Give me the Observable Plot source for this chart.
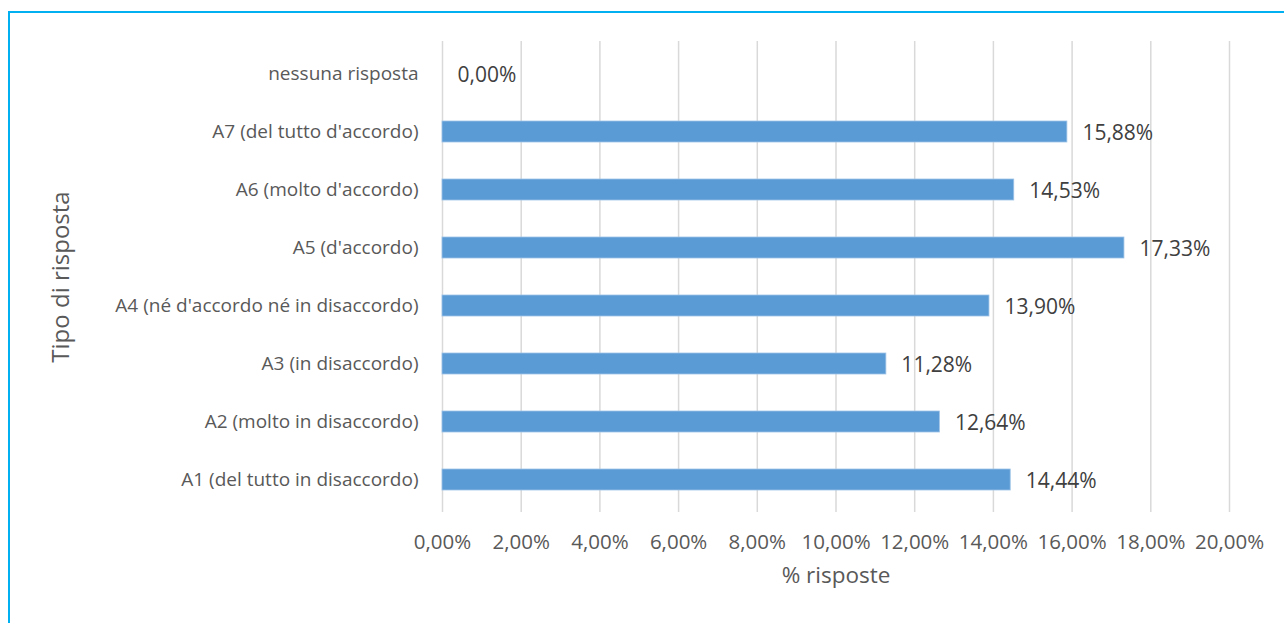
<!DOCTYPE html>
<html>
<head>
<meta charset="utf-8">
<script src="https://cdn.jsdelivr.net/npm/d3@7"></script>
<script src="https://cdn.jsdelivr.net/npm/@observablehq/plot@0.6"></script>
<style>
  html, body { margin: 0; padding: 0; background: #fff; overflow: hidden; }
  #wrap { position: relative; width: 1284px; height: 623px; }
  #border { position: absolute; left: 8px; top: 11px; right: -10px; bottom: -10px;
            border-left: 2px solid #00B0F0; border-top: 2px solid #00B0F0; pointer-events: none; }
  #chart { position: absolute; left: 0; top: 0; }
</style>
</head>
<body>
<div id="wrap"><div id="chart"></div><div id="border"></div></div>
<script>
const categories = [
  "A1 (del tutto in disaccordo)",
  "A2 (molto in disaccordo)",
  "A3 (in disaccordo)",
  "A4 (né d'accordo né in disaccordo)",
  "A5 (d'accordo)",
  "A6 (molto d'accordo)",
  "A7 (del tutto d'accordo)",
  "nessuna risposta"
];
const values = [14.44, 12.64, 11.28, 13.90, 17.33, 14.53, 15.88, 0.00];
const xTicks = [0, 2, 4, 6, 8, 10, 12, 14, 16, 18, 20];
const xLabel = "% risposte";
const yLabel = "Tipo di risposta";

const data = categories.map((c, i) => ({category: c, value: values[i]}));
const fmt = v => v.toFixed(2).replace(".", ",") + "%";
const font = "'Open Sans', sans-serif";

const chart = Plot.plot({
  width: 1284,
  height: 623,
  marginLeft: 442,
  marginRight: 55,
  marginTop: 41,
  marginBottom: 111,
  style: {fontFamily: font, fontSize: "19px", color: "#595959", background: "transparent"},
  x: {domain: [0, 20], ticks: xTicks, tickFormat: fmt},
  y: {domain: [...categories].reverse(), paddingInner: 0.64, paddingOuter: 0.32},
  marks: [
    Plot.gridX(xTicks, {stroke: "#d9d9d9", strokeOpacity: 1, strokeWidth: 1.5}),
    Plot.axisX(xTicks, {tickSize: 0, tickPadding: 22, tickFormat: fmt, label: null, fill: "#595959", fontSize: 20.5}),
    Plot.axisY({tickSize: 0, tickPadding: 24, label: null, fill: "#595959", fontSize: 19}),
    Plot.barX(data, {x: "value", y: "category", fill: "#5B9BD5", stroke: "#9DC3E6", strokeWidth: 0.8}),
    Plot.text(data, {x: "value", y: "category", text: d => fmt(d.value), textAnchor: "start", dx: 15, dy: 1, fill: "#404040", fontSize: 21}),
    Plot.text([xLabel], {frameAnchor: "bottom", textAnchor: "middle", dy: 70, fill: "#595959", fontSize: 22.5}),
    Plot.text([yLabel], {frameAnchor: "left", textAnchor: "middle", rotate: -90, dx: -381, fill: "#595959", fontSize: 24})
  ]
});
document.getElementById("chart").appendChild(chart);
</script>
</body>
</html>
